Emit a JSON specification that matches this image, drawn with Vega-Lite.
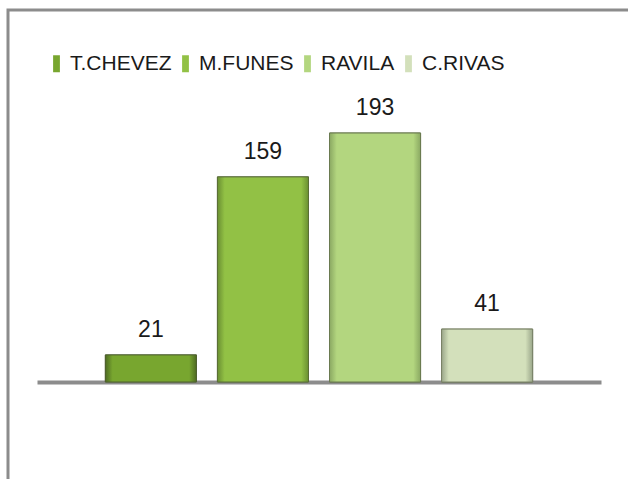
{
  "$schema": "https://vega.github.io/schema/vega-lite/v6.json",
  "autosize": "none",
  "width": 640,
  "height": 490,
  "padding": {"left": 8, "top": 10, "right": 0, "bottom": 0},
  "background": "white",
  "config": {
    "view": {"stroke": "#8c8c8c", "strokeWidth": 3},
    "font": "Liberation Sans"
  },
  "data": {
    "values": [
      {"nombre": "T.CHEVEZ", "valor": 21},
      {"nombre": "M.FUNES", "valor": 159},
      {"nombre": "RAVILA", "valor": 193},
      {"nombre": "C.RIVAS", "valor": 41}
    ]
  },
  "encoding": {
    "x": {
      "field": "nombre",
      "type": "nominal",
      "sort": null,
      "scale": {"domain": ["T.CHEVEZ", "M.FUNES", "RAVILA", "C.RIVAS"], "range": [29, 593], "paddingInner": 0.1875, "paddingOuter": 0.61},
      "axis": {
        "title": null,
        "labels": false,
        "ticks": false,
        "offset": -118,
        "domainColor": "#8c8c8c",
        "domainWidth": 4,
        "grid": false
      }
    },
    "y": {
      "field": "valor",
      "type": "quantitative",
      "scale": {"domain": [0, 200], "range": [372, 114], "nice": false, "zero": true},
      "axis": null
    }
  },
  "layer": [
    {
      "mark": {"type": "bar", "stroke": "#5f6e45", "strokeWidth": 1},
      "encoding": {
        "color": {
          "field": "nombre",
          "type": "nominal",
          "sort": null,
          "scale": {
            "domain": ["T.CHEVEZ", "M.FUNES", "RAVILA", "C.RIVAS"],
            "range": ["#78a62f", "#92c145", "#b3d67f", "#d3e0bb"]
          },
          "legend": {
            "orient": "none",
            "legendX": 38,
            "legendY": 43,
            "direction": "horizontal",
            "columns": 4,
            "title": null,
            "columnPadding": 3,
            "symbolType": "M-0.4,-1H0.4V1H-0.4Z",
            "symbolSize": 289,
            "symbolStrokeWidth": 0,
            "symbolOpacity": 1,
            "labelFont": "Liberation Sans",
            "labelFontSize": 21,
            "labelColor": "#1a1a1a",
            "labelOffset": 3
          }
        }
      }
    },
    {
      "transform": [{"filter": "datum.nombre === 'T.CHEVEZ'"}],
      "mark": {"type": "bar", "stroke": "#4f6030", "strokeWidth": 1, "color": {"gradient": "linear", "x1": 0, "y1": 0, "x2": 1, "y2": 0, "stops": [{"offset": 0, "color": "#4e6b22"}, {"offset": 0.08, "color": "#78a62f"}, {"offset": 0.92, "color": "#78a62f"}, {"offset": 1, "color": "#4e6b22"}]}}
    },
    {
      "transform": [{"filter": "datum.nombre === 'M.FUNES'"}],
      "mark": {"type": "bar", "stroke": "#5a6e38", "strokeWidth": 1, "color": {"gradient": "linear", "x1": 0, "y1": 0, "x2": 1, "y2": 0, "stops": [{"offset": 0, "color": "#6a8f32"}, {"offset": 0.08, "color": "#92c145"}, {"offset": 0.92, "color": "#92c145"}, {"offset": 1, "color": "#6a8f32"}]}}
    },
    {
      "transform": [{"filter": "datum.nombre === 'RAVILA'"}],
      "mark": {"type": "bar", "stroke": "#6a7a50", "strokeWidth": 1, "color": {"gradient": "linear", "x1": 0, "y1": 0, "x2": 1, "y2": 0, "stops": [{"offset": 0, "color": "#8aa862"}, {"offset": 0.08, "color": "#b3d67f"}, {"offset": 0.92, "color": "#b3d67f"}, {"offset": 1, "color": "#8aa862"}]}}
    },
    {
      "transform": [{"filter": "datum.nombre === 'C.RIVAS'"}],
      "mark": {"type": "bar", "stroke": "#7a8268", "strokeWidth": 1, "color": {"gradient": "linear", "x1": 0, "y1": 0, "x2": 1, "y2": 0, "stops": [{"offset": 0, "color": "#9aa68a"}, {"offset": 0.08, "color": "#d3e0bb"}, {"offset": 0.92, "color": "#d3e0bb"}, {"offset": 1, "color": "#9aa68a"}]}}
    },
    {
      "mark": {"type": "text", "baseline": "bottom", "dy": -13, "fontSize": 23, "font": "Liberation Sans", "color": "#1a1a1a"},
      "encoding": {"text": {"field": "valor", "type": "quantitative"}}
    }
  ]
}
